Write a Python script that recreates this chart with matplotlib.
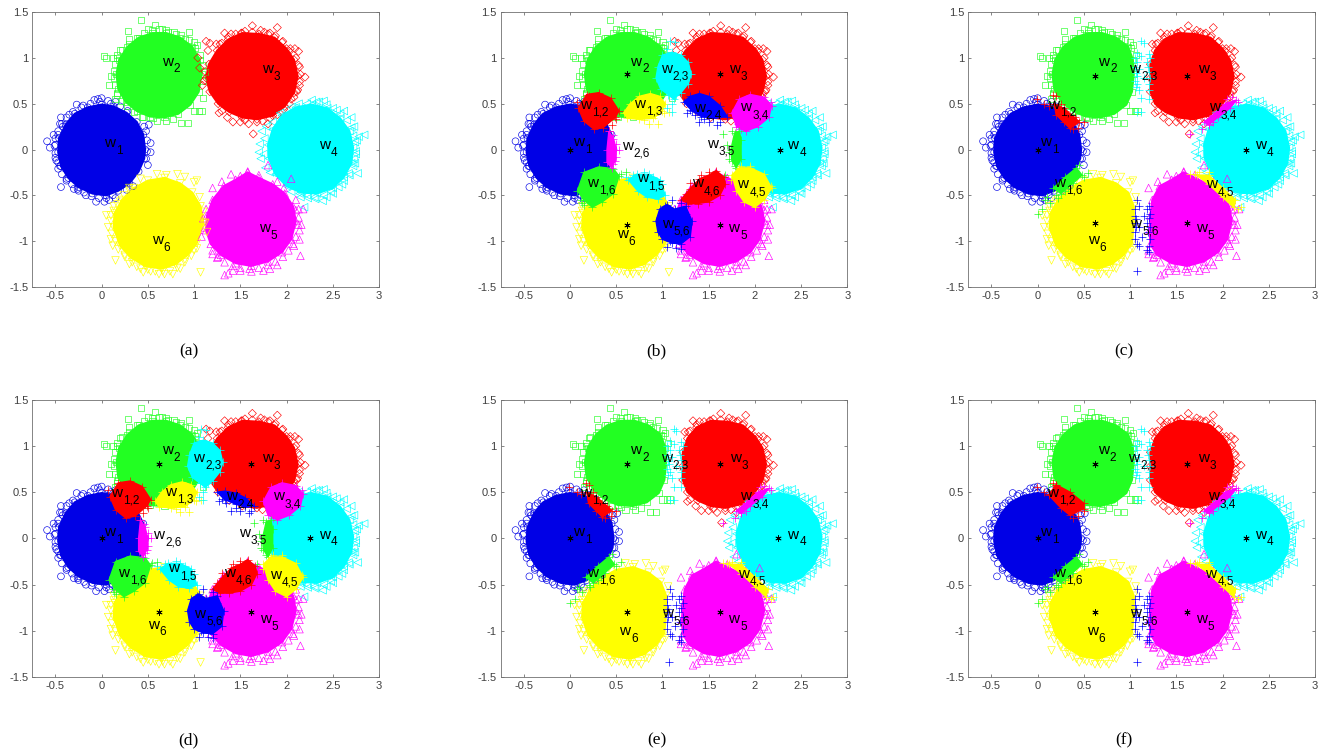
import matplotlib
matplotlib.use("Agg")
import matplotlib.pyplot as plt

plt.rcParams['font.family'] = ['Liberation Sans', 'DejaVu Sans']

W, H = 1321, 754

# class colours and markers
COLORS = ['#0000e6', '#22ff22', '#ff0000', '#00ffff', '#ff00ff', '#ffff00']
MARKERS = ['o', 's', 'D', '<', '^', 'v']
SIZES = [24, 19, 17, 30, 30, 30]

# dense core outline of each class
CORE1 = [(0.47, 0), (0.45, 0.16), (0.38, 0.3), (0.27, 0.4), (0.13, 0.47), (0, 0.49), (-0.15, 0.46), (-0.29, 0.39),
         (-0.39, 0.27), (-0.46, 0.12), (-0.47, -0.03), (-0.44, -0.18), (-0.36, -0.31), (-0.25, -0.41), (-0.1, -0.48),
         (0.05, -0.5), (0.18, -0.45), (0.3, -0.37), (0.4, -0.24), (0.46, -0.1)]
CORE2 = [(1.08, 0.82), (1.06, 0.98), (0.98, 1.12), (0.85, 1.22), (0.7, 1.27), (0.55, 1.27), (0.4, 1.22), (0.28, 1.12),
         (0.19, 0.98), (0.16, 0.82), (0.18, 0.66), (0.26, 0.52), (0.38, 0.42), (0.52, 0.36), (0.68, 0.35), (0.83, 0.39),
         (0.96, 0.49), (1.05, 0.63)]
CORE3 = [(2.12, 0.8), (2.08, 0.98), (2.0, 1.1), (1.87, 1.22), (1.7, 1.26), (1.52, 1.27), (1.37, 1.2), (1.25, 1.08),
         (1.16, 0.93), (1.13, 0.78), (1.17, 0.63), (1.26, 0.5), (1.38, 0.41), (1.52, 0.35), (1.68, 0.33), (1.85, 0.37),
         (1.98, 0.47), (2.08, 0.62)]
CORE4 = [(2.72, 0.02), (2.68, 0.2), (2.58, 0.34), (2.44, 0.45), (2.27, 0.49), (2.1, 0.46), (1.95, 0.37), (1.85, 0.22),
         (1.8, 0.05), (1.81, -0.1), (1.88, -0.27), (2.0, -0.4), (2.16, -0.47), (2.33, -0.48), (2.5, -0.42), (2.62, -0.3),
         (2.7, -0.15)]
CORE5 = [(2.1, -0.78), (2.07, -0.62), (1.98, -0.48), (1.85, -0.38), (1.7, -0.31), (1.58, -0.25), (1.45, -0.33),
         (1.32, -0.4), (1.2, -0.55), (1.14, -0.72), (1.13, -0.88), (1.18, -1.03), (1.29, -1.15), (1.45, -1.24),
         (1.62, -1.27), (1.8, -1.22), (1.95, -1.12), (2.05, -0.98)]
CORE6 = [(1.1, -0.8), (1.07, -0.62), (0.98, -0.47), (0.85, -0.37), (0.68, -0.31), (0.5, -0.34), (0.35, -0.42),
         (0.22, -0.55), (0.14, -0.7), (0.13, -0.85), (0.2, -1.05), (0.32, -1.18), (0.47, -1.27), (0.65, -1.3),
         (0.8, -1.25), (0.93, -1.15), (1.03, -1.02)]

# cores in (c), (e), (f), where the gaps w2,3 and w5,6 open up
CORE2_CUT = [(1.04, 0.82), (1.03, 0.98), (0.98, 1.12), (0.85, 1.22), (0.7, 1.27), (0.55, 1.27), (0.4, 1.22), (0.28, 1.12),
             (0.19, 0.98), (0.16, 0.82), (0.18, 0.66), (0.26, 0.52), (0.38, 0.42), (0.52, 0.36), (0.68, 0.35), (0.83, 0.39),
             (0.96, 0.49), (1.02, 0.63)]
CORE3_CUT = [(2.12, 0.8), (2.08, 0.98), (2.0, 1.1), (1.87, 1.22), (1.7, 1.26), (1.52, 1.27), (1.37, 1.2), (1.27, 1.08),
             (1.22, 0.93), (1.22, 0.78), (1.22, 0.63), (1.27, 0.5), (1.38, 0.41), (1.52, 0.35), (1.68, 0.33), (1.85, 0.37),
             (1.98, 0.47), (2.08, 0.62)]
CORE5_CUT = [(2.1, -0.78), (2.07, -0.62), (1.98, -0.48), (1.85, -0.38), (1.7, -0.31), (1.58, -0.25), (1.45, -0.33),
             (1.32, -0.4), (1.24, -0.55), (1.22, -0.72), (1.21, -0.88), (1.22, -1.03), (1.29, -1.15), (1.45, -1.24),
             (1.62, -1.27), (1.8, -1.22), (1.95, -1.12), (2.05, -0.98)]
CORE6_CUT = [(1.04, -0.8), (1.04, -0.62), (0.98, -0.47), (0.85, -0.37), (0.68, -0.31), (0.5, -0.34), (0.35, -0.42),
             (0.22, -0.55), (0.14, -0.7), (0.13, -0.85), (0.2, -1.05), (0.32, -1.18), (0.47, -1.27), (0.65, -1.3),
             (0.8, -1.25), (0.93, -1.15), (1.02, -1.02)]

# separate points outside the core, facing out of the ring
RIM1 = [(-0.59, 0.09), (-0.56, 0.02), (-0.52, 0.16), (-0.47, 0.16), (-0.44, 0.35), (-0.27, 0.49), (-0.08, 0.54),
        (-0.04, 0.55), (0, 0.56), (0.07, 0.53), (0.15, 0.52), (-0.44, -0.41), (-0.3, -0.43), (-0.25, -0.45),
        (-0.06, -0.57), (0.03, -0.57), (0.15, -0.53), (0.08, -0.55), (-0.5, -0.09), (-0.47, -0.14), (-0.45, -0.18),
        (-0.38, -0.32), (-0.42, 0.25), (-0.45, 0.28), (-0.35, 0.38), (-0.2, 0.48), (-0.17, -0.5), (-0.5, 0.05),
        (0.2, 0.47), (0.1, 0.5), (-0.02, 0.52), (-0.12, 0.5), (-0.22, 0.46), (-0.31, 0.41), (-0.38, 0.35), (-0.43, 0.28),
        (-0.47, 0.2), (-0.5, 0.12), (-0.51, 0.04), (-0.5, -0.04), (-0.49, -0.12), (-0.47, -0.21), (-0.43, -0.27),
        (-0.38, -0.34), (-0.32, -0.38), (-0.26, -0.43), (-0.19, -0.47), (-0.11, -0.51), (-0.03, -0.53), (0.05, -0.53),
        (0.12, -0.5), (0.27, -0.44), (0.34, -0.4), (0.28, 0.42)]
RIM2 = [(0.43, 1.41), (0.58, 1.36), (0.29, 1.29), (0.95, 1.28), (0.65, 1.31), (0.72, 1.28), (0.8, 1.26), (1.0, 1.17),
        (1.03, 1.14), (0.03, 1.02), (0.05, 1.0), (0.17, 1.03), (0.12, 1.0), (0.13, 0.86), (0.1, 0.8), (0.08, 0.7),
        (0.17, 0.62), (0.15, 0.55), (0.3, 1.2), (0.5, 1.31), (0.9, 1.2), (0.2, 1.08),
        (0.22, 1.09), (0.3, 1.15), (0.38, 1.22), (0.46, 1.27), (0.54, 1.3), (0.62, 1.31), (0.7, 1.3), (0.78, 1.28),
        (0.86, 1.25), (0.94, 1.19), (1.01, 1.11), (1.06, 1.03), (0.17, 1.0), (0.14, 0.93), (0.13, 0.78), (0.14, 0.7),
        (0.17, 0.6), (0.21, 0.53), (0.27, 0.47), (0.35, 0.41), (0.44, 0.36)]
RIM3 = [(1.63, 1.35), (1.9, 1.33), (1.33, 1.27), (1.4, 1.26), (1.51, 1.27), (1.76, 1.28), (1.82, 1.27), (2.03, 1.07),
        (2.09, 1.1), (2.13, 1.07), (2.2, 0.79), (2.14, 0.7), (2.11, 0.63), (1.28, 1.15), (1.95, 1.17), (2.14, 0.9),
        (2.05, 0.55), (1.3, 1.16), (1.37, 1.23), (1.45, 1.26), (1.55, 1.29), (1.63, 1.28), (1.72, 1.3), (1.8, 1.26),
        (1.88, 1.24), (1.96, 1.18), (2.04, 1.1), (2.1, 1.0), (2.13, 0.92), (2.15, 0.82), (2.14, 0.74), (2.12, 0.65),
        (2.08, 0.57), (2.03, 0.5), (1.97, 0.44), (1.9, 0.38), (1.82, 0.34), (1.74, 0.31), (1.24, 1.15)]
RIM4 = [(2.84, 0.16), (2.78, 0.14), (2.76, 0.1), (2.75, -0.05), (2.77, -0.26), (2.68, -0.28), (2.7, 0.35), (2.62, 0.42),
        (2.54, 0.43), (2.4, 0.53), (2.35, 0.52), (2.27, 0.54), (2.23, -0.53), (2.39, -0.56), (2.43, -0.52), (2.5, -0.48),
        (2.19, -0.63), (2.15, -0.52), (2.73, 0.25), (2.74, -0.15), (2.6, -0.38), (2.31, -0.54),
        (2.74, 0.08), (2.75, -0.02), (2.73, -0.1), (2.72, -0.18), (2.67, -0.26), (2.62, -0.34), (2.56, -0.41), (2.48, -0.46),
        (2.4, -0.5), (2.3, -0.52), (2.22, -0.5), (2.14, -0.48), (2.05, -0.46), (2.72, 0.15), (2.7, 0.24), (2.65, 0.32),
        (2.58, 0.39), (2.5, 0.45), (2.43, 0.49), (2.32, 0.52), (2.22, 0.5), (2.13, 0.5), (2.05, 0.46)]
RIM5 = [(2.05, -0.32), (1.33, -1.37), (1.37, -1.35), (1.42, -1.32), (1.5, -1.32), (1.62, -1.33), (1.75, -1.32),
        (1.82, -1.3), (1.9, -1.26), (2.15, -1.16), (2.14, -0.98), (2.16, -0.82), (2.13, -0.82), (2.18, -0.65),
        (2.1, -0.66), (1.2, -1.14), (1.25, -1.18), (2.08, -1.05), (2.1, -0.55), (2.13, -0.65), (2.13, -0.74), (2.14, -0.88),
        (2.1, -0.95), (2.07, -1.03), (2.02, -1.1), (1.96, -1.17), (1.88, -1.22), (1.8, -1.26), (1.7, -1.29), (1.6, -1.3),
        (1.5, -1.29), (1.42, -1.27), (1.33, -1.23), (1.26, -1.17), (1.2, -1.1)]
RIM6 = [(0.77, -1.36), (0.68, -1.36), (0.62, -1.36), (0.53, -1.33), (0.45, -1.34), (0.38, -1.28),
        (0.3, -1.25), (0.15, -1.21), (0.12, -1.05), (0.1, -0.98), (0.07, -0.85), (0.05, -0.72), (0.1, -0.72),
        (0.13, -0.67), (0.2, -0.57), (0.9, -1.2), (1.03, -1.08), (0.25, -1.15), (0.85, -1.3), (1.0, -1.1),
        (0.13, -0.62), (0.1, -0.78), (0.11, -0.92), (0.15, -1.0), (0.18, -1.09), (0.25, -1.17), (0.33, -1.23), (0.42, -1.3),
        (0.5, -1.31), (0.58, -1.33), (0.66, -1.33), (0.74, -1.33), (0.82, -1.29), (0.9, -1.23), (0.97, -1.16),
        (0.17, -0.6), (0.24, -0.5), (0.3, -0.45)]

# points facing the middle of the ring, gone in panels (b) and (d)
INNER1 = [(0.51, 0.27), (0.53, 0.07), (0.53, -0.03), (0.5, -0.17), (0.48, 0.2), (0.46, 0.25), (0.48, -0.1), (0.49, 0.1), (0.49, -0.02)]
INNER2 = [(0.93, 0.29), (0.86, 0.29), (1.08, 0.42), (1.05, 0.42), (0.6, 0.31), (0.77, 0.33), (0.45, 0.35), (0.55, 0.34), (0.7, 0.31), (1.0, 0.42)]
INNER3 = [(1.27, 0.4), (1.42, 0.3), (1.5, 0.3), (1.59, 0.28), (1.64, 0.17), (1.3, 0.42), (1.8, 0.28), (1.85, 0.4), (1.36, 0.35), (1.55, 0.32), (1.68, 0.3)]
INNER4 = [(1.73, 0.2), (1.71, 0.06), (1.7, -0.03), (1.72, -0.1), (1.78, 0.25), (1.77, -0.2), (1.76, 0.12), (1.75, -0.05), (1.82, -0.25), (1.85, 0.3), (1.93, 0.4)]
INNER5 = [(1.8, -0.17), (1.4, -0.27), (1.5, -0.29), (1.58, -0.24), (1.7, -0.28), (1.9, -0.35), (1.2, -0.42), (1.3, -0.35), (1.97, -0.42)]
INNER6 = [(0.6, -0.27), (0.82, -0.27), (1.0, -0.36), (1.03, -0.34), (1.06, -0.52), (0.3, -0.42), (0.42, -0.32), (0.7, -0.28), (0.9, -0.3)]

# points in the gaps between classes 2/3 and 5/6, gone in (c), (e), (f)
GAP2 = [(1.1, 0.56), (1.1, 0.75), (1.1, 0.92), (1.12, 0.85)]
GAP3 = [(1.13, 1.18), (1.17, 1.16), (1.04, 1.0), (1.06, 0.89), (1.09, 0.7), (1.12, 0.85), (1.15, 1.08), (1.11, 0.75)]
GAP5 = [(1.08, -0.95), (1.13, -0.65), (1.1, -0.75), (1.12, -0.85)]
GAP6 = [(1.1, -0.68), (1.07, -1.34), (1.12, -0.8), (1.14, -0.9)]
GAP1 = []
GAP4 = []

# overlap regions in panels (b) and (d): outline, then stray plus marks
WIDE12 = [(0.09, 0.45), (0.18, 0.6), (0.31, 0.62), (0.44, 0.56), (0.53, 0.42), (0.49, 0.35), (0.36, 0.24), (0.26, 0.22), (0.15, 0.31)]
WIDE12_S = [(0.07, 0.52), (0.2, 0.58), (0.5, 0.33), (0.45, 0.27), (0.42, 0.2), (0.35, 0.3), (0.3, 0.35), (0.4, 0.36)]
WIDE13 = [(0.58, 0.4), (0.65, 0.5), (0.75, 0.58), (0.87, 0.61), (0.97, 0.58), (1.03, 0.5), (1.0, 0.42), (0.9, 0.34), (0.75, 0.33), (0.62, 0.34)]
WIDE13_S = [(1.07, 0.41), (1.02, 0.4), (0.85, 0.28), (0.95, 0.28), (0.8, 0.32), (0.92, 0.38)]
WIDE15 = [(0.63, -0.33), (0.72, -0.27), (0.85, -0.27), (0.97, -0.33), (1.03, -0.5), (0.95, -0.54), (0.83, -0.52), (0.73, -0.45)]
WIDE15_S = [(0.68, -0.28), (0.8, -0.24), (0.6, -0.3), (1.0, -0.38), (0.9, -0.3), (0.75, -0.3)]
WIDE16 = [(0.08, -0.45), (0.15, -0.25), (0.31, -0.19), (0.47, -0.21), (0.53, -0.29), (0.47, -0.48), (0.35, -0.57), (0.24, -0.63), (0.15, -0.55)]
WIDE16_S = [(0.12, -0.55), (0.13, -0.58), (0.55, -0.27), (0.6, -0.25), (0.2, -0.5), (0.4, -0.3), (0.35, -0.4), (0.15, -0.6)]
WIDE23 = [(1.31, 0.82), (1.28, 0.95), (1.2, 1.03), (1.1, 1.06), (1.0, 1.03), (0.95, 0.9), (0.93, 0.78), (0.98, 0.66), (1.06, 0.6), (1.12, 0.55), (1.2, 0.62), (1.28, 0.72)]
WIDE23_S = [(1.08, 1.18), (1.13, 1.17), (1.1, 0.41), (1.05, 0.45), (1.18, 1.0), (1.1, 0.5), (1.15, 0.6), (1.05, 1.1)]
WIDE24 = [(1.23, 0.52), (1.3, 0.58), (1.4, 0.61), (1.5, 0.58), (1.62, 0.48), (1.7, 0.36), (1.55, 0.34), (1.42, 0.36), (1.32, 0.42)]
WIDE24_D = [(1.25, 0.5), (1.33, 0.51), (1.45, 0.49), (1.55, 0.44), (1.65, 0.35), (1.55, 0.34), (1.45, 0.37), (1.33, 0.42)]
WIDE24_S = [(1.27, 0.4), (1.3, 0.43), (1.4, 0.3), (1.5, 0.3), (1.59, 0.27), (1.62, 0.3), (1.35, 0.38), (1.45, 0.33)]
WIDE26 = [(0.42, 0.2), (0.47, 0.12), (0.5, 0), (0.49, -0.12), (0.45, -0.2), (0.4, -0.14), (0.4, 0)]
WIDE26_S = [(0.5, 0.06), (0.53, 0), (0.47, -0.16), (0.5, -0.08), (0.46, 0.16)]
WIDE34 = [(1.75, 0.4), (1.83, 0.55), (1.95, 0.6), (2.1, 0.57), (2.18, 0.48), (2.15, 0.35), (2.03, 0.25), (1.9, 0.2), (1.8, 0.25)]
WIDE34_S = [(1.82, 0.28), (1.85, 0.22), (2.17, 0.52), (1.95, 0.3), (2.05, 0.42), (1.88, 0.35), (2.0, 0.5)]
WIDE35 = [(1.78, 0.18), (1.83, 0.2), (1.85, 0.1), (1.85, -0.1), (1.8, -0.2), (1.75, -0.12), (1.74, 0)]
WIDE35_S = [(1.65, 0.17), (1.75, 0.2), (1.7, 0.05), (1.72, -0.1), (1.68, -0.28), (1.78, -0.18), (1.72, -0.03)]
WIDE45 = [(1.75, -0.28), (1.83, -0.2), (1.95, -0.2), (2.1, -0.27), (2.18, -0.42), (2.1, -0.55), (2.0, -0.63), (1.88, -0.57), (1.8, -0.45)]
WIDE45_S = [(1.74, -0.33), (2.17, -0.4), (1.95, -0.18), (1.85, -0.18)]
WIDE46 = [(1.2, -0.55), (1.3, -0.43), (1.4, -0.32), (1.5, -0.28), (1.58, -0.23), (1.66, -0.3), (1.68, -0.38), (1.62, -0.5), (1.5, -0.57), (1.38, -0.59), (1.28, -0.59)]
WIDE46_S = [(1.5, -0.24), (1.42, -0.28), (1.6, -0.28), (1.25, -0.48), (1.3, -0.37), (1.55, -0.3), (1.35, -0.4)]
WIDE56 = [(0.93, -0.78), (0.97, -0.65), (1.05, -0.6), (1.13, -0.65), (1.25, -0.62), (1.32, -0.78), (1.3, -0.95), (1.2, -1.03), (1.1, -1.02), (1.0, -0.98), (0.95, -0.9)]
WIDE56_S = [(1.05, -1.06), (1.15, -1.07), (1.2, -1.08), (1.1, -0.55), (1.03, -0.62), (1.2, -0.58), (1.1, -0.8), (1.2, -0.85), (1.15, -0.95), (1.25, -0.7), (1.08, -1.0)]

# overlap regions in panels (c), (e) and (f)
THIN12 = [(0.18, 0.5), (0.28, 0.45), (0.4, 0.35), (0.45, 0.3), (0.35, 0.23), (0.28, 0.3), (0.2, 0.38)]
THIN12_F = [(0.12, 0.47), (0.2, 0.58), (0.35, 0.5), (0.5, 0.38), (0.5, 0.32), (0.35, 0.25), (0.25, 0.33)]
THIN12_S = [(-0.01, 0.55), (0.07, 0.5), (0.12, 0.48), (0.17, 0.6), (0.2, 0.58), (0.25, 0.5), (0.3, 0.42), (0.42, 0.32), (0.5, 0.3), (0.38, 0.22), (0.44, 0.24)]
THIN16 = [(0.17, -0.42), (0.3, -0.3), (0.42, -0.2), (0.48, -0.28), (0.38, -0.37), (0.25, -0.48)]
THIN16_S = [(0.45, -0.17), (0.55, -0.26), (0.5, -0.3), (0.08, -0.55), (0.13, -0.58), (0.1, -0.52), (0.2, -0.5), (0.22, -0.53), (0, -0.7), (0.05, -0.65), (0.3, -0.45), (0.33, -0.42)]
THIN23 = []
THIN23_S = [(1.12, 1.18), (1.15, 1.16), (1.08, 1.05), (1.12, 1.02), (1.2, 1.04), (1.05, 1.0), (1.08, 0.95), (1.18, 0.95), (1.2, 0.85), (1.1, 0.88), (1.07, 0.8), (1.15, 0.78), (1.2, 0.72), (1.08, 0.72), (1.2, 0.65), (1.1, 0.65), (1.12, 0.56), (1.2, 0.55), (1.08, 0.41), (1.12, 0.41), (1.05, 0.9), (1.06, 0.84), (1.19, 0.9), (1.21, 0.78), (1.06, 0.68), (1.22, 1.0), (1.05, 0.75)]
THIN34 = [(1.8, 0.3), (1.9, 0.38), (2.03, 0.5), (2.15, 0.54), (2.08, 0.45), (1.95, 0.35), (1.85, 0.27)]
THIN34_S = [(1.65, 0.17), (1.78, 0.22), (1.85, 0.28), (1.9, 0.3), (2.05, 0.55), (2.1, 0.57), (2.17, 0.52)]
THIN45 = [(1.72, -0.28), (1.85, -0.28), (2.0, -0.42), (2.14, -0.55), (2.12, -0.63), (2.0, -0.52), (1.85, -0.38)]
THIN45_S = [(1.65, -0.27), (1.7, -0.27), (1.75, -0.25), (1.85, -0.25), (2.1, -0.55), (2.2, -0.63), (2.17, -0.65), (2.05, -0.5)]
THIN56 = []
THIN56_S = [(1.07, -1.33), (1.08, -0.55), (1.05, -0.65), (1.05, -0.72), (1.05, -0.8), (1.05, -0.9), (1.05, -0.98), (1.1, -0.62), (1.18, -0.65), (1.15, -0.72), (1.2, -0.62), (1.22, -0.7), (1.18, -0.8), (1.22, -0.85), (1.1, -0.85), (1.13, -0.95), (1.22, -0.98), (1.2, -1.05), (1.1, -1.05), (1.08, -1.03), (1.2, -1.12), (1.18, -1.1), (1.2, -0.75), (1.19, -0.9), (1.06, -0.76), (1.06, -0.85)]

# class centres (the black stars)
CENTERS_B = [(0, 0), (0.62, 0.82), (1.62, 0.82), (2.27, 0), (1.62, -0.82), (0.62, -0.82)]
CENTERS_REST = [(0, 0), (0.62, 0.8), (1.62, 0.8), (2.25, 0), (1.62, -0.8), (0.62, -0.8)]

# label texts
CLASS_SUBS = ['1', '2', '3', '4', '5', '6']
WIDE_SUBS = ['1,2', '1,3', '1,5', '1,6', '2,3', '2,4', '2,6', '3,4', '3,5', '4,5', '4,6', '5,6']
THIN_SUBS = ['1,2', '1,6', '2,3', '3,4', '4,5', '5,6']

# label positions, same order as the texts
CLASS_POS_A = [(0.09, 0.07), (0.71, 0.96), (1.79, 0.88), (2.41, 0.05), (1.76, -0.855), (0.6, -0.99)]
CLASS_POS_B = [(0.09, 0.08), (0.71, 0.96), (1.78, 0.88), (2.41, 0.05), (1.77, -0.855), (0.565, -0.925)]
CLASS_POS_C = [(0.09, 0.08), (0.715, 0.96), (1.79, 0.88), (2.41, 0.05), (1.77, -0.855), (0.6, -0.99)]
CLASS_POS_D = [(0.09, 0.07), (0.71, 0.95), (1.79, 0.87), (2.41, 0.04), (1.77, -0.87), (0.56, -0.93)]
CLASS_POS_E = [(0.09, 0.07), (0.71, 0.95), (1.79, 0.87), (2.41, 0.04), (1.77, -0.87), (0.59, -1.0)]
WIDE_POS_B = [(0.165, 0.49), (0.75, 0.5), (0.78, -0.315), (0.24, -0.365), (1.04, 0.88), (1.4, 0.455), (0.62, 0.04), (1.9, 0.46), (1.54, 0.065), (1.87, -0.38), (1.38, -0.37), (1.05, -0.81)]
WIDE_POS_D = [(0.165, 0.49), (0.75, 0.5), (0.78, -0.325), (0.24, -0.375), (1.05, 0.87), (1.4, 0.455), (0.62, 0.04), (1.91, 0.455), (1.54, 0.06), (1.88, -0.39), (1.385, -0.375), (1.06, -0.815)]
THIN_POS_C = [(0.17, 0.49), (0.24, -0.365), (1.05, 0.88), (1.91, 0.46), (1.88, -0.38), (1.06, -0.81)]
THIN_POS_E = [(0.165, 0.49), (0.24, -0.375), (1.04, 0.87), (1.9, 0.455), (1.875, -0.385), (1.055, -0.81)]

CORES = [CORE1, CORE2, CORE3, CORE4, CORE5, CORE6]
CORES_CUT = [CORE1, CORE2_CUT, CORE3_CUT, CORE4, CORE5_CUT, CORE6_CUT]
RIMS = [RIM1, RIM2, RIM3, RIM4, RIM5, RIM6]
INNERS = [INNER1, INNER2, INNER3, INNER4, INNER5, INNER6]
GAPS = [GAP1, GAP2, GAP3, GAP4, GAP5, GAP6]

# colours of the overlap regions
WIDE_REGIONS = [(WIDE12, WIDE12_S, COLORS[2]), (WIDE13, WIDE13_S, COLORS[5]), (WIDE15, WIDE15_S, COLORS[3]),
                (WIDE16, WIDE16_S, COLORS[1]), (WIDE23, WIDE23_S, COLORS[3]), (WIDE24, WIDE24_S, '#0000ff'),
                (WIDE26, WIDE26_S, COLORS[4]), (WIDE34, WIDE34_S, COLORS[4]), (WIDE35, WIDE35_S, COLORS[1]),
                (WIDE45, WIDE45_S, COLORS[5]), (WIDE46, WIDE46_S, COLORS[2]), (WIDE56, WIDE56_S, '#0000ff')]
WIDE_REGIONS_D = list(WIDE_REGIONS)
WIDE_REGIONS_D[5] = (WIDE24_D, WIDE24_S, '#0000ff')
THIN_REGIONS = [(THIN12, THIN12_S, COLORS[2]), (THIN16, THIN16_S, COLORS[1]), (THIN23, THIN23_S, COLORS[3]),
                (THIN34, THIN34_S, COLORS[4]), (THIN45, THIN45_S, COLORS[5]), (THIN56, THIN56_S, '#0000ff')]
THIN_REGIONS_F = list(THIN_REGIONS)
THIN_REGIONS_F[0] = (THIN12_F, THIN12_S, COLORS[2])


def scatter_pts(ax, pts, color, marker, size):
    if not pts:
        return
    xs = [p[0] for p in pts]
    ys = [p[1] for p in pts]
    ax.scatter(xs, ys, s=size, facecolors='none', edgecolors=color, marker=marker, linewidths=0.45, zorder=3)


def put_label(ax, pos, sub):
    ax.annotate('w', pos, ha='center', va='center', fontsize=11, color='black', zorder=6)
    ax.annotate(sub, pos, xytext=(4.6, -5.6), textcoords='offset points', ha='left', va='center',
                fontsize=8.5, color='black', zorder=6)


def draw_panel(left, top, bottom, caption, cap_x, cap_y, class_pos, centers=None, regions=None, region_subs=None,
               region_pos=None, show_inner=True, cores=CORES, show_gap=True):
    right = left + 346.7
    ax = fig.add_axes([left / W, 1 - bottom / H, (right - left) / W, (bottom - top) / H])
    for i in range(6):
        ax.fill([p[0] for p in cores[i]], [p[1] for p in cores[i]], color=COLORS[i], lw=1.5, zorder=2 + i * 0.01)
        scatter_pts(ax, cores[i], COLORS[i], MARKERS[i], SIZES[i])
        scatter_pts(ax, RIMS[i], COLORS[i], MARKERS[i], SIZES[i])
        if show_inner:
            scatter_pts(ax, INNERS[i], COLORS[i], MARKERS[i], SIZES[i])
        if show_gap:
            scatter_pts(ax, GAPS[i], COLORS[i], MARKERS[i], SIZES[i])
    if regions:
        for outline, strays, color in regions:
            if outline:
                ax.fill([p[0] for p in outline], [p[1] for p in outline], color=color, lw=1.0, zorder=4)
            ax.scatter([p[0] for p in outline + strays], [p[1] for p in outline + strays], s=28, c=color,
                       marker='+', linewidths=0.5, zorder=4)
    if centers:
        ax.scatter([p[0] for p in centers], [p[1] for p in centers], s=16, c='black', marker=(6, 2, 0),
                   linewidths=0.6, zorder=5)
    for pos, sub in zip(class_pos, CLASS_SUBS):
        put_label(ax, pos, sub)
    if region_subs:
        for pos, sub in zip(region_pos, region_subs):
            put_label(ax, pos, sub)

    ax.set_xlim(-0.75, 3)
    ax.set_ylim(-1.5, 1.5)
    ax.set_xticks([-0.5, 0, 0.5, 1, 1.5, 2, 2.5, 3])
    ax.set_xticklabels(['-0.5', '0', '0.5', '1', '1.5', '2', '2.5', '3'])
    ax.set_yticks([-1.5, -1, -0.5, 0, 0.5, 1, 1.5])
    ax.set_yticklabels(['-1.5', '-1', '-0.5', '0', '0.5', '1', '1.5'])
    ax.tick_params(direction='in', top=True, right=True, length=2.5, width=0.5, color='#555555',
                   labelcolor='#404040', labelsize=8, pad=3)
    for s in ax.spines.values():
        s.set_color('#707070')
        s.set_linewidth(0.6)
    fig.text(cap_x / W, 1 - cap_y / H, caption, ha='center', va='center', fontsize=12.5,
             family=['Liberation Serif', 'DejaVu Serif'], color='black')


fig = plt.figure(figsize=(W / 100, H / 100), dpi=100)

draw_panel(32.3, 12, 287, '(a)', 188.7, 351.7, CLASS_POS_A)
draw_panel(500.7, 12, 287, '(b)', 656, 351.7, CLASS_POS_B, CENTERS_B, WIDE_REGIONS, WIDE_SUBS, WIDE_POS_B, False)
draw_panel(968.3, 12, 287, '(c)', 1124, 351.7, CLASS_POS_C, CENTERS_REST, THIN_REGIONS, THIN_SUBS, THIN_POS_C,
           cores=CORES_CUT, show_gap=False)
draw_panel(32.3, 399.5, 677.3, '(d)', 188.3, 740, CLASS_POS_D, CENTERS_REST, WIDE_REGIONS_D, WIDE_SUBS, WIDE_POS_D, False)
draw_panel(500.7, 399.5, 677.3, '(e)', 656.7, 740, CLASS_POS_E, CENTERS_REST, THIN_REGIONS, THIN_SUBS, THIN_POS_E,
           cores=CORES_CUT, show_gap=False)
draw_panel(968.3, 399.5, 677.3, '(f)', 1124, 740, CLASS_POS_E, CENTERS_REST, THIN_REGIONS_F, THIN_SUBS, THIN_POS_E,
           cores=CORES_CUT, show_gap=False)

fig.savefig('out.png', dpi=100)
